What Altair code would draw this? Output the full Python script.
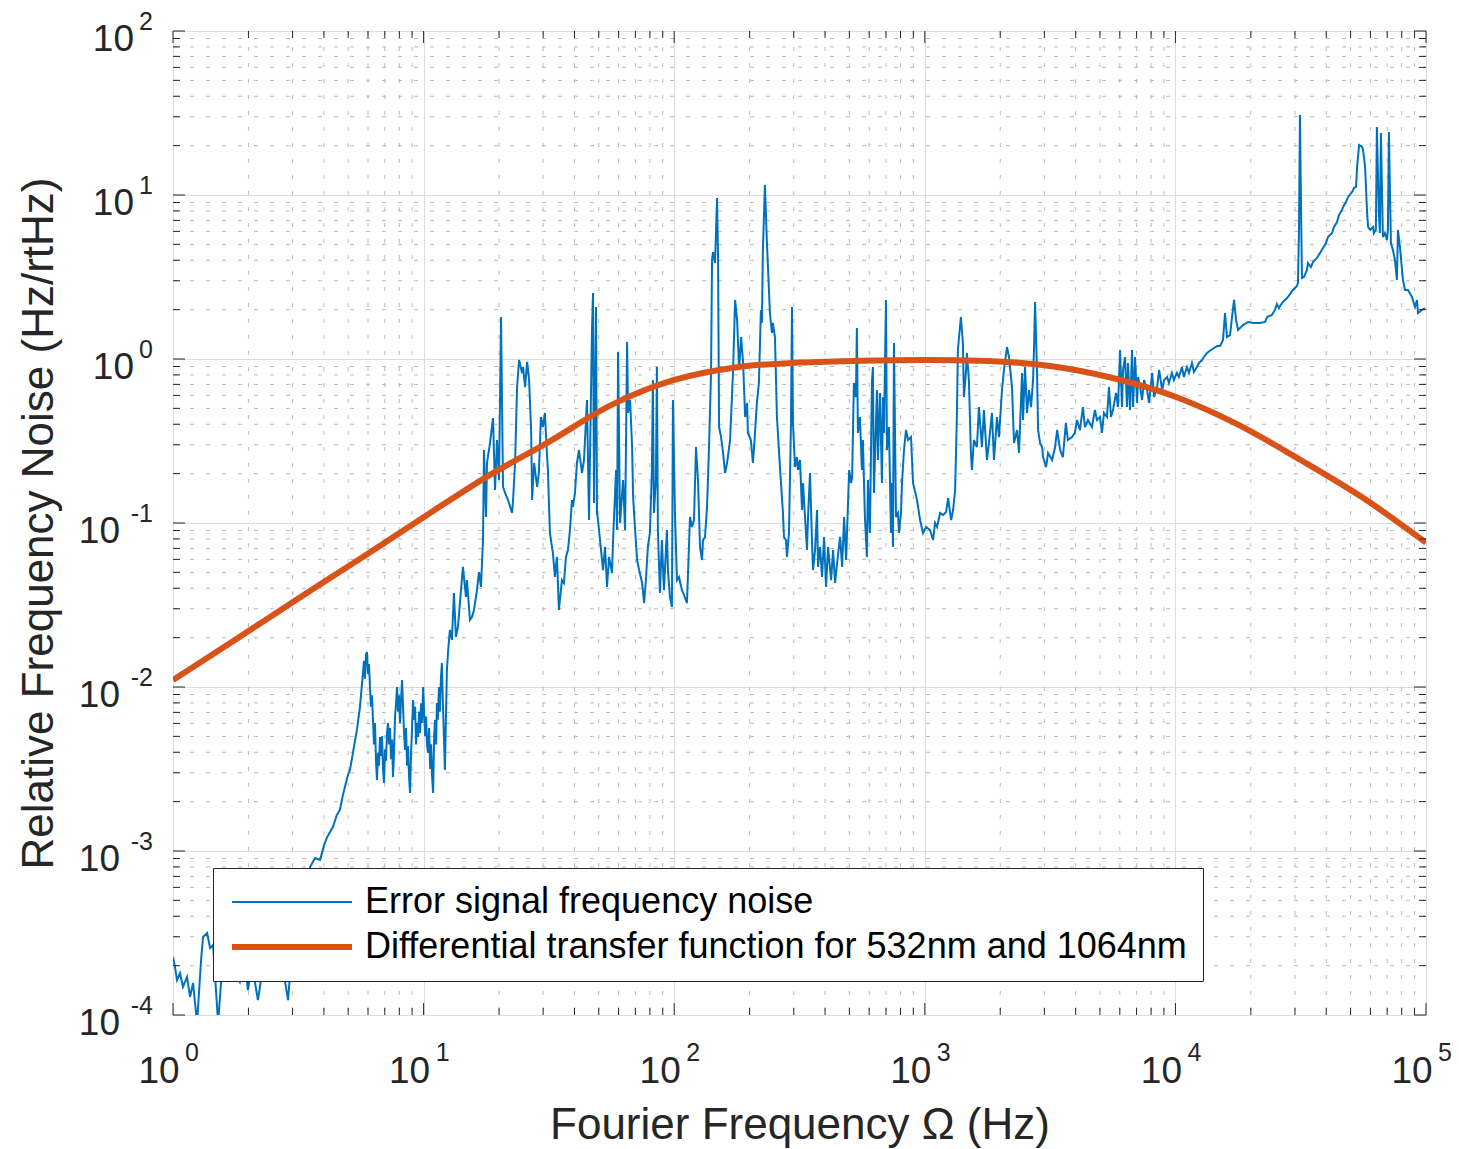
import altair as alt
import numpy as np
import pandas as pd

# ---------------- data (log10 of frequency in Hz, log10 of noise in Hz/rtHz) -------------
ERR = "Error signal frequency noise"
TF = "Differential transfer function for 532nm and 1064nm"

seg_low = [(0.000, -3.646), (0.008, -3.707), (0.016, -3.787), (0.028, -3.744), (0.040, -3.829),
           (0.056, -3.768), (0.068, -3.890), (0.080, -3.805), (0.096, -4.050), (0.112, -3.665),
           (0.120, -3.524), (0.136, -3.500), (0.148, -3.591), (0.160, -3.573), (0.180, -4.050),
           (0.196, -3.713), (0.219, -3.787), (0.239, -3.701), (0.267, -3.799), (0.287, -3.677),
           (0.299, -3.848), (0.315, -3.695), (0.339, -3.909), (0.363, -3.665), (0.387, -3.713),
           (0.411, -3.634), (0.435, -3.677), (0.459, -3.909), (0.475, -3.604), (0.499, -3.482),
           (0.519, -3.299), (0.539, -3.177)]

seg_rise = [(0.547, -3.098), (0.567, -3.043), (0.587, -3.055), (0.603, -2.963), (0.615, -2.915),
            (0.638, -2.854), (0.654, -2.780), (0.666, -2.750), (0.678, -2.659), (0.686, -2.610),
            (0.698, -2.537), (0.706, -2.506), (0.718, -2.402), (0.734, -2.262), (0.746, -2.122),
            (0.758, -1.915), (0.762, -1.84), (0.766, -1.95), (0.770, -1.80), (0.774, -1.787),
            (0.778, -1.92), (0.782, -1.86), (0.786, -2.000), (0.790, -2.12), (0.794, -2.05),
            (0.798, -2.201), (0.802, -2.35), (0.806, -2.22), (0.810, -2.45), (0.814, -2.567),
            (0.818, -2.40), (0.822, -2.48), (0.826, -2.305), (0.830, -2.42), (0.834, -2.30),
            (0.838, -2.50), (0.842, -2.585), (0.846, -2.38), (0.850, -2.45), (0.854, -2.28),
            (0.858, -2.220), (0.862, -2.35), (0.866, -2.25), (0.870, -2.44), (0.874, -2.32),
            (0.878, -2.549), (0.882, -2.40), (0.886, -2.18), (0.890, -2.10), (0.894, -2.000),
            (0.898, -2.15), (0.902, -2.05), (0.906, -2.22), (0.910, -2.08), (0.914, -1.957),
            (0.918, -2.12), (0.922, -2.28), (0.926, -2.384), (0.930, -2.25), (0.934, -2.48),
            (0.938, -2.36), (0.942, -2.55), (0.946, -2.646), (0.950, -2.40), (0.954, -2.25),
            (0.958, -2.079), (0.962, -2.20), (0.966, -2.12), (0.970, -2.35), (0.974, -2.22),
            (0.978, -2.305), (0.982, -2.15), (0.986, -2.28), (0.990, -2.10), (0.994, -2.22),
            (0.998, -2.000), (1.002, -2.15), (1.006, -2.30), (1.010, -2.18), (1.014, -2.36),
            (1.018, -2.402), (1.022, -2.25), (1.026, -2.50), (1.030, -2.35), (1.034, -2.55),
            (1.038, -2.646), (1.042, -2.30), (1.046, -2.20), (1.050, -2.35), (1.053, -2.098),
            (1.057, -2.20), (1.061, -2.00), (1.065, -2.15), (1.069, -1.95), (1.073, -1.854),
            (1.077, -2.10), (1.081, -2.30), (1.085, -2.506), (1.089, -2.20), (1.093, -1.896),
            (1.097, -1.80), (1.101, -1.72), (1.105, -1.652)]

seg_ten = [(1.113, -1.713), (1.121, -1.427), (1.129, -1.695), (1.137, -1.634), (1.157, -1.268),
           (1.169, -1.451), (1.173, -1.348), (1.185, -1.591), (1.193, -1.573), (1.201, -1.530),
           (1.213, -1.409), (1.221, -1.299), (1.229, -1.390), (1.237, -1.104), (1.241, -0.555)]

seg_hundred = [(1.249, -0.963), (1.253, -0.634), (1.265, -0.512), (1.277, -0.360), (1.285, -0.799),
               (1.293, -0.494), (1.301, -0.738), (1.309, 0.256), (1.317, -0.780), (1.325, -0.817),
               (1.337, -0.860), (1.353, -0.939), (1.357, -0.860), (1.365, -0.634), (1.373, -0.171),
               (1.381, -0.006), (1.393, -0.085), (1.397, -0.049), (1.405, -0.171), (1.413, -0.018),
               (1.421, -0.128), (1.429, -0.433), (1.433, -0.860), (1.441, -0.634), (1.453, -0.780),
               (1.460, -0.695), (1.468, -0.354), (1.476, -0.415), (1.484, -0.329), (1.492, -0.573),
               (1.496, -0.677), (1.504, -1.061), (1.516, -1.183), (1.524, -1.329), (1.532, -1.207),
               (1.540, -1.530), (1.552, -1.348), (1.560, -1.366), (1.568, -1.207), (1.576, -1.165),
               (1.584, -1.043), (1.592, -0.860), (1.596, -0.902), (1.604, -0.817), (1.612, -0.634),
               (1.620, -0.555), (1.632, -0.695), (1.640, -0.616), (1.652, -0.250), (1.660, -0.982),
               (1.672, 0.177), (1.676, 0.402), (1.680, -0.878), (1.688, 0.317), (1.692, -0.939),
               (1.696, -0.982), (1.704, -1.104), (1.716, -1.287), (1.724, -1.146), (1.732, -1.390),
               (1.740, -1.207), (1.752, -1.305), (1.756, -1.104), (1.768, -0.677), (1.772, -1.043),
               (1.776, 0.043), (1.784, -1.000), (1.796, -0.738), (1.804, -1.043), (1.812, 0.104),
               (1.816, -0.329), (1.824, -0.250), (1.832, -0.537), (1.836, -0.841), (1.844, -1.043),
               (1.852, -1.226), (1.860, -1.287), (1.872, -1.366), (1.880, -1.488), (1.887, -1.348),
               (1.895, -1.146), (1.903, -1.061), (1.911, -0.677), (1.915, -0.128), (1.919, -0.939),
               (1.927, -0.738), (1.931, -0.049), (1.935, -1.043), (1.943, -1.427), (1.951, -1.104),
               (1.959, -1.409), (1.971, -1.043), (1.975, -1.287), (1.983, -1.451), (1.991, -1.512),
               (1.995, -0.250), (2.003, -0.939), (2.011, -1.348), (2.019, -1.329), (2.031, -1.409),
               (2.039, -1.439), (2.051, -1.488), (2.063, -0.963), (2.071, -1.024), (2.079, -0.982),
               (2.087, -0.537), (2.095, -0.738), (2.103, -1.146), (2.111, -1.226), (2.115, -1.104),
               (2.123, -1.085), (2.131, -0.902), (2.139, -0.537), (2.147, -0.085), (2.151, 0.604),
               (2.155, 0.652), (2.163, 0.585), (2.171, 0.982), (2.175, 0.622), (2.179, -0.415),
               (2.187, -0.476), (2.195, -0.573), (2.203, -0.695), (2.211, -0.634), (2.223, -0.494),
               (2.235, -0.067), (2.243, 0.360), (2.251, 0.238), (2.259, -0.067)]

seg_thousand = [(2.267, 0.134), (2.275, -0.024), (2.283, -0.354), (2.291, -0.268), (2.294, -0.451),
                (2.306, -0.494), (2.314, -0.634), (2.318, -0.555), (2.330, -0.268), (2.338, -0.146),
                (2.346, 0.299), (2.350, 0.220), (2.354, 0.665), (2.362, 1.061), (2.370, 0.707),
                (2.382, 0.280), (2.390, 0.159), (2.394, 0.220), (2.402, 0.134), (2.410, -0.354),
                (2.422, -0.659), (2.434, -0.939), (2.438, -1.085), (2.446, -1.104), (2.450, -1.207),
                (2.458, -1.061), (2.466, -0.390), (2.470, 0.317), (2.474, -0.390), (2.482, -0.659),
                (2.490, -0.598), (2.494, -0.677), (2.502, -0.616), (2.510, -0.921), (2.514, -0.756),
                (2.522, -0.963), (2.530, -1.165), (2.534, -0.963), (2.542, -0.695), (2.550, -1.122),
                (2.554, -1.287), (2.562, -1.165), (2.570, -0.921), (2.574, -1.268), (2.582, -1.146),
                (2.590, -1.329), (2.598, -1.085), (2.606, -1.390), (2.614, -1.146), (2.626, -1.348),
                (2.634, -1.165), (2.642, -1.366), (2.650, -1.244), (2.662, -1.085), (2.670, -1.268),
                (2.678, -0.963), (2.686, -1.226), (2.694, -0.860), (2.698, -0.677), (2.706, -0.756),
                (2.710, -0.720), (2.717, -0.146), (2.725, -0.232), (2.729, 0.189), (2.733, -0.451),
                (2.741, -0.354), (2.749, -0.677), (2.753, -0.494), (2.761, -0.963), (2.769, -1.207),
                (2.773, -0.738), (2.781, -1.061), (2.789, -0.146), (2.793, -0.049), (2.797, -0.817),
                (2.809, -0.189), (2.813, -0.616), (2.821, -0.207), (2.829, -0.756), (2.833, -0.232),
                (2.837, -0.451), (2.845, 0.360), (2.849, -0.555), (2.857, -0.415), (2.865, -1.061),
                (2.869, -0.756), (2.873, -1.146), (2.877, 0.098), (2.885, -0.963), (2.893, -0.939),
                (2.897, -1.061), (2.905, -0.939), (2.909, -0.756), (2.917, -0.555), (2.925, -0.433),
                (2.933, -0.494), (2.945, -0.476), (2.953, -0.756), (2.969, -0.860), (2.981, -0.982),
                (2.993, -1.061), (3.005, -1.024), (3.021, -1.043), (3.033, -1.104), (3.041, -1.000),
                (3.049, -1.024), (3.061, -0.939), (3.073, -0.951), (3.085, -0.933), (3.093, -0.848),
                (3.105, -0.982), (3.113, -0.921), (3.121, -0.799), (3.128, -0.354), (3.132, 0.055),
                (3.144, 0.256), (3.152, 0.098), (3.156, -0.232), (3.164, -0.085), (3.168, 0.037),
                (3.176, -0.128), (3.184, -0.573), (3.188, -0.677), (3.196, -0.494), (3.208, -0.537),
                (3.216, -0.293), (3.228, -0.537), (3.236, -0.311), (3.248, -0.616), (3.256, -0.512),
                (3.268, -0.329), (3.276, -0.616), (3.288, -0.354), (3.296, -0.476)]

seg_tenk = [(3.308, -0.189), (3.316, -0.067), (3.328, 0.073), (3.336, 0.012), (3.348, -0.171),
            (3.356, -0.512), (3.368, -0.433), (3.376, -0.573), (3.388, -0.085), (3.392, -0.372),
            (3.400, -0.049), (3.408, -0.329), (3.416, -0.189), (3.424, -0.293), (3.432, -0.128),
            (3.436, 0.073), (3.440, 0.348), (3.448, -0.085), (3.452, -0.433), (3.460, -0.512),
            (3.468, -0.537), (3.472, -0.598), (3.484, -0.659), (3.492, -0.573), (3.508, -0.616),
            (3.520, -0.537), (3.528, -0.433), (3.540, -0.555), (3.551, -0.598), (3.563, -0.390),
            (3.571, -0.494), (3.587, -0.476), (3.599, -0.451), (3.607, -0.372), (3.619, -0.433),
            (3.631, -0.293), (3.639, -0.415), (3.651, -0.372), (3.667, -0.415), (3.679, -0.311),
            (3.687, -0.372), (3.699, -0.354), (3.707, -0.451), (3.715, -0.329), (3.727, -0.354),
            (3.735, -0.171), (3.743, -0.354), (3.751, -0.311), (3.763, -0.207), (3.771, -0.293),
            (3.779, 0.055), (3.787, -0.293), (3.791, -0.067), (3.799, 0.012), (3.807, -0.293),
            (3.811, -0.024), (3.819, -0.311), (3.827, 0.055), (3.831, -0.293), (3.839, 0.012),
            (3.847, -0.268), (3.851, -0.110), (3.859, -0.171), (3.867, -0.250), (3.875, -0.128),
            (3.887, -0.189), (3.895, -0.268), (3.907, -0.085), (3.915, -0.232), (3.927, -0.171),
            (3.935, -0.067), (3.947, -0.189), (3.955, -0.128), (3.967, -0.110), (3.974, -0.146),
            (3.986, -0.085), (3.994, -0.128), (4.006, -0.085), (4.014, -0.110), (4.026, -0.049),
            (4.034, -0.110), (4.046, -0.049), (4.054, -0.085), (4.066, -0.024), (4.074, -0.079),
            (4.086, -0.049), (4.094, -0.024), (4.106, -0.006), (4.114, 0.012), (4.126, 0.037),
            (4.142, 0.055), (4.154, 0.067), (4.166, 0.079), (4.178, 0.079), (4.190, 0.116),
            (4.198, 0.280), (4.206, 0.134), (4.218, 0.146), (4.226, 0.256), (4.234, 0.360),
            (4.242, 0.238), (4.250, 0.177)]

seg_high = [(4.270, 0.207), (4.290, 0.226), (4.310, 0.220), (4.338, 0.220), (4.358, 0.226),
            (4.366, 0.256), (4.385, 0.268), (4.397, 0.299), (4.405, 0.335), (4.413, 0.311),
            (4.425, 0.341), (4.437, 0.360), (4.449, 0.378), (4.469, 0.421), (4.485, 0.445),
            (4.489, 0.463), (4.493, 0.768), (4.497, 1.488), (4.501, 0.970), (4.505, 0.494),
            (4.513, 0.500), (4.525, 0.543), (4.529, 0.585), (4.541, 0.561), (4.549, 0.591),
            (4.565, 0.616), (4.577, 0.646), (4.589, 0.677), (4.601, 0.707), (4.609, 0.744),
            (4.625, 0.768), (4.633, 0.805), (4.645, 0.835), (4.653, 0.878), (4.665, 0.909),
            (4.669, 0.927), (4.681, 0.957), (4.689, 0.988), (4.705, 1.018), (4.713, 1.043),
            (4.721, 1.049), (4.725, 1.171), (4.733, 1.305), (4.745, 1.293), (4.749, 1.274),
            (4.757, 1.171), (4.765, 0.890), (4.769, 0.805), (4.777, 0.787), (4.789, 0.805),
            (4.792, 0.768), (4.800, 0.787), (4.804, 1.415), (4.812, 0.890), (4.816, 0.768),
            (4.820, 1.378), (4.828, 0.744), (4.836, 0.768), (4.844, 0.726), (4.848, 0.787),
            (4.852, 1.384), (4.860, 0.707), (4.868, 0.665), (4.876, 0.604), (4.884, 0.482),
            (4.888, 0.787), (4.896, 0.683), (4.908, 0.482), (4.916, 0.421), (4.928, 0.421),
            (4.944, 0.378), (4.956, 0.317), (4.964, 0.360), (4.968, 0.280), (4.984, 0.299),
            (4.996, 0.311)]

tf_log10_freq = [0.0, 0.25, 0.5, 0.75, 1.0, 1.25, 1.5, 1.75, 2.0, 2.25, 2.5,
                 2.75, 3.0, 3.25, 3.5, 3.75, 4.0, 4.25, 4.5, 4.75, 5.0]
tf_log10_value = [-1.957, -1.71, -1.46, -1.215, -0.965, -0.72, -0.505, -0.28, -0.128, -0.05, -0.022,
                  -0.010, -0.006, -0.012, -0.043, -0.116, -0.23, -0.40, -0.616, -0.848, -1.12]

x_decades = [0, 1, 2, 3, 4, 5]
y_decades = [-4, -3, -2, -1, 0, 1, 2]
minor_steps = [2, 3, 4, 5, 6, 7, 8, 9]

# ---------------- frames ----------------
pairs = [p for seg in (seg_low, seg_rise, seg_ten, seg_hundred, seg_thousand, seg_tenk, seg_high) for p in seg]
err = pd.DataFrame(pairs, columns=["lf", "lv"])
err["f"] = 10.0 ** err["lf"]
err["v"] = 10.0 ** err["lv"]
err["order"] = np.arange(len(err))
err["series"] = ERR

tf = pd.DataFrame({"lf": tf_log10_freq, "lv": tf_log10_value})
tf["f"] = 10.0 ** tf["lf"]
tf["v"] = 10.0 ** tf["lv"]
tf["order"] = np.arange(len(tf))
tf["series"] = TF

x_major = pd.DataFrame({"f": [10.0 ** e for e in x_decades], "exp": [str(e) for e in x_decades]})
y_major = pd.DataFrame({"v": [10.0 ** e for e in y_decades], "exp": [str(e) for e in y_decades]})
x_minor = pd.DataFrame({"f": [m * 10.0 ** k for k in x_decades[:-1] for m in minor_steps]})
y_minor = pd.DataFrame({"v": [m * 10.0 ** k for k in y_decades[:-1] for m in minor_steps]})

# ---------------- style ----------------
W, H = 1253, 984
FONT = "Liberation Sans"
INK = "#262626"
BLUE = "#0072BD"
ORANGE = "#D95319"
MINOR = "#b9b9b9"
MAJOR = "#dcdcdc"

xs = alt.Scale(type="log", domain=[1, 1e5], nice=False)
ys = alt.Scale(type="log", domain=[1e-4, 1e2], nice=False)

legend = alt.Legend(title=None, orient="none", legendX=40, legendY=837, fillColor="white",
                    strokeColor=INK, padding=16, labelFont=FONT, labelFontSize=36,
                    labelColor="black", labelLimit=2000, rowPadding=9,
                    symbolType="M-4,0H4", symbolSize=900, symbolOffset=45, labelOffset=55)
series_dom = [ERR, TF]
color_enc = alt.Color("series:N", scale=alt.Scale(domain=series_dom, range=[BLUE, ORANGE]), legend=legend)
width_enc = alt.StrokeWidth("series:N", scale=alt.Scale(domain=series_dom, range=[2, 6]), legend=legend)

x_axis = alt.Axis(values=[10.0 ** e for e in x_decades], labels=False, ticks=False, domain=False,
                  grid=True, gridColor=MAJOR, gridWidth=1, title="Fourier Frequency Ω (Hz)",
                  titleFont=FONT, titleFontSize=44, titleFontWeight="normal", titleColor=INK,
                  titleBaseline="alphabetic", titleY=123)
y_axis = alt.Axis(values=[10.0 ** e for e in y_decades], labels=False, ticks=False, domain=False,
                  grid=True, gridColor=MAJOR, gridWidth=1, title="Relative Frequency Noise (Hz/rtHz)",
                  titleFont=FONT, titleFontSize=44, titleFontWeight="normal", titleColor=INK,
                  titleBaseline="alphabetic", titleX=-121)

X = alt.X("f:Q", scale=xs, axis=x_axis)
Y = alt.Y("v:Q", scale=ys, axis=y_axis)

# minor grid
x_minor_grid = alt.Chart(x_minor).mark_rule(color=MINOR, strokeWidth=1, strokeDash=[4, 12]).encode(x=X)
y_minor_grid = alt.Chart(y_minor).mark_rule(color=MINOR, strokeWidth=1, strokeDash=[4, 12]).encode(y=Y)

err_line = alt.Chart(err).mark_line(clip=True).encode(
    x=X, y=Y, order="order:Q", color=color_enc, strokeWidth=width_enc)
tf_line = alt.Chart(tf).mark_line(clip=True, interpolate="monotone").encode(
    x=X, y=Y, order="order:Q", color=color_enc, strokeWidth=width_enc)


def xticks(df, length):
    bottom = alt.Chart(df).mark_rule(color=INK, strokeWidth=1).encode(
        x=X, y=alt.value(H), y2=alt.value(H - length))
    top = alt.Chart(df).mark_rule(color=INK, strokeWidth=1).encode(
        x=X, y=alt.value(0), y2=alt.value(length))
    return [bottom, top]


def yticks(df, length):
    left = alt.Chart(df).mark_rule(color=INK, strokeWidth=1).encode(
        y=Y, x=alt.value(0), x2=alt.value(length))
    right = alt.Chart(df).mark_rule(color=INK, strokeWidth=1).encode(
        y=Y, x=alt.value(W), x2=alt.value(W - length))
    return [left, right]


tick_layers = xticks(x_major, 12) + xticks(x_minor, 7) + yticks(y_major, 12) + yticks(y_minor, 7)

# tick labels (10 with raised exponent)
x_ten = alt.Chart(x_major).mark_text(font=FONT, fontSize=37, color=INK, align="center",
                                     baseline="middle", dx=-14).encode(
    x=X, y=alt.value(H + 57), text=alt.value("10"))
x_exp = alt.Chart(x_major).mark_text(font=FONT, fontSize=25, color=INK, align="center",
                                     baseline="middle", dx=19).encode(
    x=X, y=alt.value(H + 38), text="exp:N")

y_pos = y_major[y_major["exp"].str[0] != "-"]
y_neg = y_major[y_major["exp"].str[0] == "-"]
y_ten_pos = alt.Chart(y_pos).mark_text(font=FONT, fontSize=37, color=INK, align="right",
                                       baseline="middle", dy=9).encode(
    y=Y, x=alt.value(-39), text=alt.value("10"))
y_ten_neg = alt.Chart(y_neg).mark_text(font=FONT, fontSize=37, color=INK, align="right",
                                       baseline="middle", dy=9).encode(
    y=Y, x=alt.value(-53), text=alt.value("10"))
y_exp = alt.Chart(y_major).mark_text(font=FONT, fontSize=25, color=INK, align="right",
                                     baseline="middle", dy=-9).encode(
    y=Y, x=alt.value(-20), text="exp:N")

chart = alt.layer(
    x_minor_grid, y_minor_grid, err_line, tf_line, *tick_layers,
    x_ten, x_exp, y_ten_pos, y_ten_neg, y_exp
).properties(
    width=W, height=H,
    padding={"left": 165, "top": 23, "right": 25, "bottom": 150},
    autosize=alt.AutoSizeParams(type="none"),
).configure_view(stroke=INK, strokeWidth=1.5).configure(font=FONT, background="white")

chart.save("out.html", embed_options={"renderer": "svg", "actions": False})
